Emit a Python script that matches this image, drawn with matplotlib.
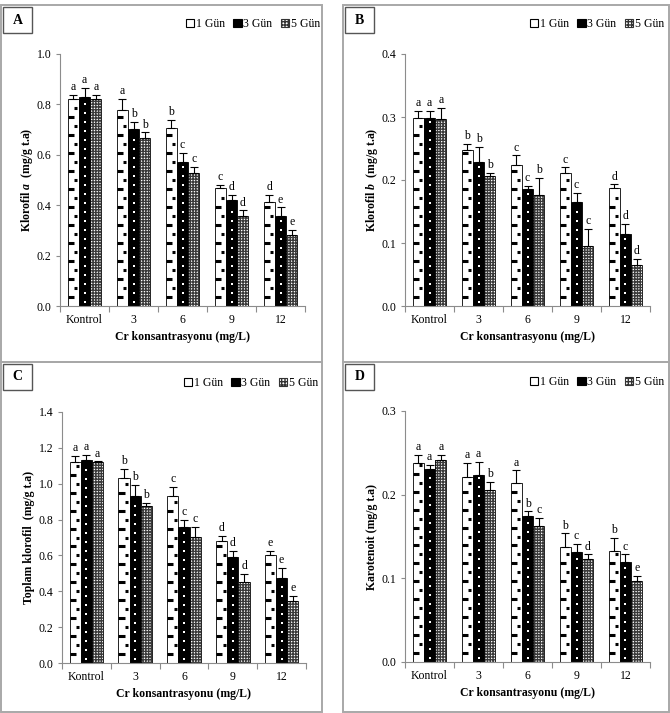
import numpy as np
import matplotlib
matplotlib.use("Agg")
import matplotlib.pyplot as plt
from matplotlib.collections import LineCollection
from matplotlib.patches import Rectangle, Patch

plt.rcParams["font.family"] = ["Liberation Serif", "DejaVu Serif"]
plt.rcParams["mathtext.fontset"] = "custom"
plt.rcParams["mathtext.rm"] = "Liberation Serif:bold"
plt.rcParams["mathtext.it"] = "Liberation Serif:italic:bold"
plt.rcParams["hatch.linewidth"] = 1.0

CATEGORIES = ["Kontrol", "3", "6", "9", "12"]
SERIES = ["1 Gün", "3 Gün", "5 Gün"]

# A - Klorofil a
chla_mean = [[0.820, 0.779, 0.706, 0.469, 0.412],
             [0.830, 0.702, 0.572, 0.421, 0.356],
             [0.822, 0.665, 0.527, 0.356, 0.283]]
chla_err = [[0.017, 0.043, 0.034, 0.010, 0.029],
            [0.036, 0.029, 0.037, 0.019, 0.035],
            [0.016, 0.024, 0.024, 0.023, 0.019]]
chla_let = [["a", "a", "b", "c", "d"],
            ["a", "b", "c", "d", "e"],
            ["a", "b", "c", "d", "e"]]

# B - Klorofil b
chlb_mean = [[0.299, 0.247, 0.224, 0.211, 0.187],
             [0.299, 0.228, 0.185, 0.165, 0.115],
             [0.297, 0.207, 0.176, 0.095, 0.065]]
chlb_err = [[0.010, 0.010, 0.015, 0.009, 0.006],
            [0.010, 0.025, 0.006, 0.015, 0.015],
            [0.018, 0.004, 0.027, 0.027, 0.010]]
chlb_let = [["a", "b", "c", "c", "d"],
            ["a", "b", "c", "c", "d"],
            ["a", "b", "b", "c", "d"]]

# C - Toplam klorofil
tot_mean = [[1.120, 1.030, 0.932, 0.681, 0.600],
            [1.133, 0.934, 0.759, 0.589, 0.472],
            [1.121, 0.874, 0.704, 0.451, 0.347]]
tot_err = [[0.035, 0.054, 0.050, 0.030, 0.026],
           [0.026, 0.058, 0.041, 0.035, 0.057],
           [0.003, 0.020, 0.054, 0.048, 0.026]]
tot_let = [["a", "b", "c", "d", "e"],
           ["a", "b", "c", "d", "e"],
           ["a", "b", "c", "d", "e"]]

# D - Karotenoit
car_mean = [[0.238, 0.2215, 0.214, 0.138, 0.133],
            [0.231, 0.224, 0.1745, 0.1315, 0.119],
            [0.242, 0.206, 0.162, 0.1235, 0.0965]]
car_err = [[0.010, 0.016, 0.015, 0.0156, 0.015],
           [0.005, 0.015, 0.0055, 0.010, 0.0096],
           [0.0056, 0.0096, 0.0097, 0.005, 0.006]]
car_let = [["a", "a", "a", "b", "b"],
           ["a", "a", "b", "c", "c"],
           ["a", "b", "c", "d", "e"]]

W, H = 670, 713
GRAY = "#8c8c8c"


def fx(px):
    return px / W


def fy(py):
    return 1 - py / H


def draw_panel(fig, box, means, errs, lets, ymax, ystep, ylabel):
    left, top, right, bottom = box
    ax = fig.add_axes([fx(left), fy(bottom), fx(right - left), (bottom - top) / H])
    x = np.arange(len(CATEGORIES))
    w = 0.23
    step = ymax / 14.0  # pattern repeat, ~18 px

    for s in range(3):
        xs = x + (s - 1) * w
        v = np.array(means[s])
        e = np.array(errs[s])
        if s == 0:
            ax.bar(xs, v, w, color="white", edgecolor="black", lw=0.6, zorder=2)
            segs = []
            for xi, vi in zip(xs, v):
                x0 = xi - w / 2
                for yy in np.arange(step * 0.5, vi - step * 0.1, step):
                    segs.append([(x0, yy), (x0 + 0.55 * w, yy)])
                for yy in np.arange(step, vi - step * 0.1, step):
                    segs.append([(x0 + 0.6 * w, yy), (x0 + 0.85 * w, yy)])
            ax.add_collection(LineCollection(segs, colors="black", lw=2.2,
                                             capstyle="butt", zorder=3))
        elif s == 1:
            ax.bar(xs, v, w, color="black", edgecolor="black", lw=0.6, zorder=2)
            px, py = [], []
            for xi, vi in zip(xs, v):
                ys = np.arange(step * 0.25, vi - step * 0.2, step / 2)
                px += [xi] * len(ys)
                py += list(ys)
            ax.plot(px, py, "s", color="white", ms=1.8, mew=0, zorder=3)
        else:
            ax.bar(xs, v, w, facecolor="white", edgecolor="#3a3a3a",
                   hatch="++++++", lw=0, zorder=2)
            ax.bar(xs, v, w, fill=False, edgecolor="black", lw=0.6, zorder=3)
        ax.errorbar(xs, v, yerr=[np.zeros_like(e), e], fmt="none", ecolor="black",
                    elinewidth=0.8, capsize=2.6, capthick=0.8, zorder=4)
        for xi, vi, ei, lt in zip(xs, v, e, lets[s]):
            ax.annotate(lt, (xi, vi + ei), xytext=(0, 3.5), textcoords="offset points",
                        ha="center", va="baseline", fontsize=8.5)

    ax.set_xlim(-0.5, len(CATEGORIES) - 0.5)
    ax.set_ylim(0, ymax)
    ax.set_yticks(np.arange(0, ymax + ystep / 2, ystep))
    ax.yaxis.set_major_formatter(matplotlib.ticker.FormatStrFormatter("%.1f"))
    ax.set_xticks(x)
    ax.set_xticklabels(CATEGORIES)
    ax.set_xticks(np.arange(-0.5, len(CATEGORIES), 1.0), minor=True)
    ax.tick_params(axis="x", which="major", length=0, pad=6, labelsize=8.5)
    ax.tick_params(axis="x", which="minor", length=4, color=GRAY, width=0.8)
    ax.tick_params(axis="y", length=3, color=GRAY, width=0.8, labelsize=8.5, pad=3)
    for sp in ["top", "right"]:
        ax.spines[sp].set_visible(False)
    for sp in ["left", "bottom"]:
        ax.spines[sp].set_color(GRAY)
        ax.spines[sp].set_linewidth(0.8)

    hgt = bottom - top
    wid = right - left
    ax.set_ylabel(ylabel, fontsize=8.5, fontweight="bold", va="center")
    ax.yaxis.set_label_coords(-33 / wid, 0.5)
    ax.set_xlabel("Cr konsantrasyonu (mg/L)", fontsize=8.5, fontweight="bold", va="center")
    ax.xaxis.set_label_coords(0.5, -31 / hgt)
    return ax


def draw_frame(fig, rect, label):
    x0, y0, x1, y1 = rect
    fig.add_artist(Rectangle((fx(x0), fy(y1)), fx(x1 - x0), (y1 - y0) / H,
                             transform=fig.transFigure, fill=False,
                             edgecolor="#a8a8a8", lw=1.4))
    fig.add_artist(Rectangle((fx(x0 + 2), fy(y0 + 28)), fx(29), 26 / H,
                             transform=fig.transFigure, facecolor="white",
                             edgecolor="#555555", lw=1.0))
    fig.text(fx(x0 + 16.5), fy(y0 + 15), label, ha="center", va="center",
             fontsize=10, fontweight="bold")


def draw_legend(fig, xr, yc):
    handles = [Patch(facecolor="white", edgecolor="black", lw=0.8),
               Patch(facecolor="black", edgecolor="black", lw=0.8),
               Patch(facecolor="white", edgecolor="#333333", hatch="+++++", lw=0.8)]
    fig.legend(handles, SERIES, loc="center right", bbox_to_anchor=(fx(xr), fy(yc)),
               bbox_transform=fig.transFigure, ncol=3, frameon=False,
               handlelength=0.7, handleheight=0.7, handletextpad=0.15,
               columnspacing=0.7, borderpad=0, borderaxespad=0, fontsize=8.5)


fig = plt.figure(figsize=(W / 100, H / 100), dpi=100)

draw_frame(fig, (1, 5, 322, 362), "A")
draw_frame(fig, (343, 5, 669, 362), "B")
draw_frame(fig, (1, 362, 322, 712), "C")
draw_frame(fig, (343, 362, 669, 712), "D")

draw_panel(fig, (60, 54, 305, 306), chla_mean, chla_err, chla_let, 1.0, 0.2,
           "Klorofil $a$  (mg/g t.a)")
draw_panel(fig, (405, 54, 650, 306), chlb_mean, chlb_err, chlb_let, 0.4, 0.1,
           "Klorofil $b$  (mg/g t.a)")
draw_panel(fig, (62, 412, 306, 663), tot_mean, tot_err, tot_let, 1.4, 0.2,
           "Toplam klorofil  (mg/g t.a)")
draw_panel(fig, (405, 411, 650, 662), car_mean, car_err, car_let, 0.3, 0.1,
           "Karotenoit (mg/g t.a)")

draw_legend(fig, 320, 24)
draw_legend(fig, 664, 24)
draw_legend(fig, 318, 383)
draw_legend(fig, 664, 382)

fig.savefig("out.png", dpi=100)
